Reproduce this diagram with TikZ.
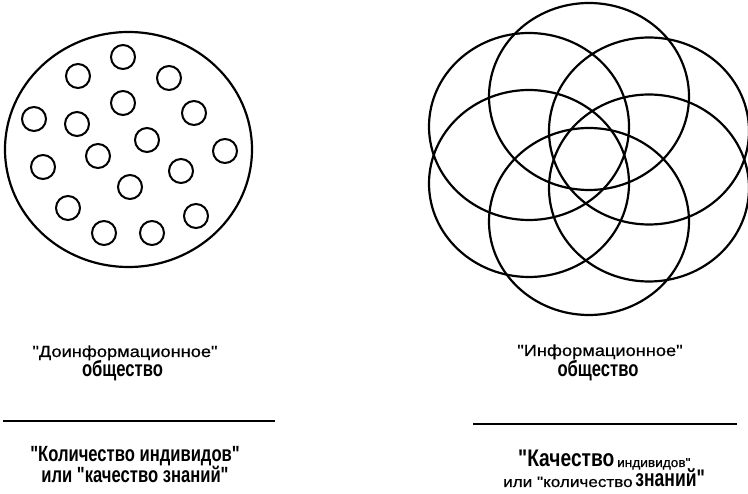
\documentclass[tikz,border=0pt]{standalone}
\usepackage{fontspec}
\setmainfont{Liberation Sans}
\newfontfamily\regw[FakeStretch=1.14,FakeBold=0.6]{Liberation Sans}
\newfontfamily\regn[FakeStretch=1.05,FakeBold=0.6]{Liberation Sans}
\newfontfamily\condb[FakeStretch=0.755]{Liberation Sans Bold}
\newfontfamily\condc[FakeStretch=0.80]{Liberation Sans Bold}
\newfontfamily\condd[FakeStretch=0.73]{Liberation Sans Bold}
\begin{document}
\begin{tikzpicture}[x=1pt,y=-1pt]
\tikzset{
  outer/.style={line width=2.2pt},
  dotc/.style={line width=2pt},
  petal/.style={line width=2.2pt},
  rulel/.style={line width=2.8pt},
  lab/.style={inner sep=0pt, anchor=base},
  labw/.style={inner sep=0pt, anchor=base west},
  small/.style={font=\regw\fontsize{16}{16}\selectfont},
  big/.style={font=\condb\fontsize{22}{22}\selectfont}
}
\useasboundingbox (0,0) rectangle (748,494);
% left figure
\draw[outer] (128.5,149.5) ellipse [x radius=123.5pt, y radius=117.5pt];
\foreach \x/\y in {123/57, 78/76, 169/78, 123/103, 194/113, 34/119, 77/124,
  147/140, 225/151, 98/156, 43/167, 181/171, 130/187, 68/208, 196/216,
  104/233, 152/233}
  \draw[dotc] (\x,\y) circle [radius=12pt];
% right figure
\foreach \x/\y in {589/96.5, 589/221.5, 529/126.5, 529/183.5, 649/131, 649/188}
  \draw[petal] (\x,\y) ellipse [x radius=100pt, y radius=93.5pt];
% labels
\node[lab, small] (ta) at (125,357) {"Доинформационное"};
\node[lab, big] (tb) at (122.5,377) {общество};
\node[lab, small] (ua) at (600,356) {"Информационное"};
\node[lab, big] (ub) at (598,377) {общество};
% rules
\coordinate (r1a) at (3,421); \coordinate (r1b) at (275,421);
\coordinate (r2a) at (473,424); \coordinate (r2b) at (737,424);
\draw[rulel] (r1a) -- (r1b);
\draw[rulel] (r2a) -- (r2b);
% bottom labels
\node[lab, big] (ba) at (135,462) {"Количество индивидов"};
\node[lab, big] (bb) at (135,483) {или "качество знаний"};
\node[labw] (ca) at (518,467) {{\condc\fontsize{24}{24}\selectfont "Качество} {\regn\fontsize{13}{13}\selectfont индивидов"}};
\node[labw] (cb) at (503,487) {{\regw\fontsize{15}{15}\selectfont или "количество} {\condd\fontsize{24}{24}\selectfont знаний"}};
\end{tikzpicture}
\end{document}
